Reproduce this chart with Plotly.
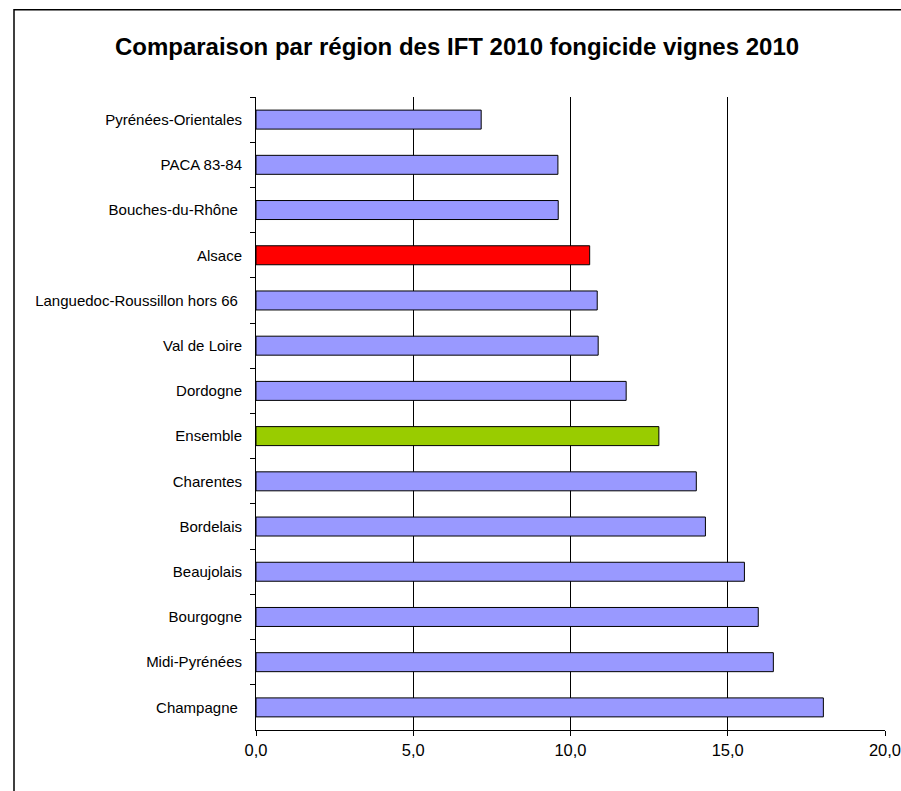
import plotly.graph_objects as go

regions = ["Pyrénées-Orientales", "PACA 83-84", "Bouches-du-Rhône ", "Alsace",
           "Languedoc-Roussillon hors 66 ", "Val de Loire", "Dordogne", "Ensemble",
           "Charentes", "Bordelais", "Beaujolais", "Bourgogne", "Midi-Pyrénées", "Champagne "]
ift_values = [7.16, 9.60, 9.61, 10.61, 10.85, 10.88, 11.77, 12.81,
              14.00, 14.29, 15.53, 15.97, 16.45, 18.04]
colors_map = {"Alsace": "#FF0000", "Ensemble": "#99CC00"}
bar_colors = [colors_map.get(r.strip(), "#9999FF") for r in regions]
x_ticks = [0, 5, 10, 15, 20]

W, H = 901, 791
L, R, T, B = 256, 16, 96.5, 60.5
pw, ph = W - L - R, H - T - B

fig = go.Figure(go.Bar(
    x=ift_values, y=regions, orientation="h",
    marker=dict(color=bar_colors, line=dict(color="#000000", width=1)),
    width=0.42,
))

def px_x(p):
    return (p - L) / pw

def px_y(p):
    return (H - B - p) / ph

fig.add_shape(type="rect", xref="paper", yref="paper",
              x0=px_x(14), x1=px_x(W + 40), y0=px_y(H + 40), y1=px_y(9),
              line=dict(color="#000000", width=1.5), fillcolor="rgba(0,0,0,0)", layer="below")

fig.update_layout(
    width=W, height=H,
    margin=dict(l=L, r=R, t=T, b=B, autoexpand=False),
    paper_bgcolor="white", plot_bgcolor="white",
    separators=", ",
    showlegend=False,
    font=dict(family="Liberation Sans, Arial, sans-serif", color="#000000"),
    title=dict(text="<b>Comparaison par région des IFT 2010 fongicide vignes 2010</b>",
               x=457 / W, xanchor="center", xref="container",
               y=1 - 47 / H, yanchor="middle", yref="container",
               font=dict(size=24, color="#000000")),
    xaxis=dict(range=[0, 20], tickvals=x_ticks, tickformat=".1f",
               showgrid=True, gridcolor="#000000", gridwidth=1,
               showline=True, linecolor="#000000", linewidth=1,
               ticks="outside", ticklen=5, tickcolor="#000000",
               tickfont=dict(size=16.5), zeroline=False, automargin=False,
               ticklabeloverflow="allow"),
    yaxis=dict(autorange="reversed", showgrid=False,
               showline=True, linecolor="#000000", linewidth=1,
               ticks="outside", ticklen=5, tickcolor="#000000", tickson="boundaries",
               tickfont=dict(size=15), ticklabelstandoff=10, automargin=False),
)

fig.write_html("out.html", config={"displayModeBar": False},
               post_script="document.body.style.margin='0';document.body.style.overflow='hidden';")
